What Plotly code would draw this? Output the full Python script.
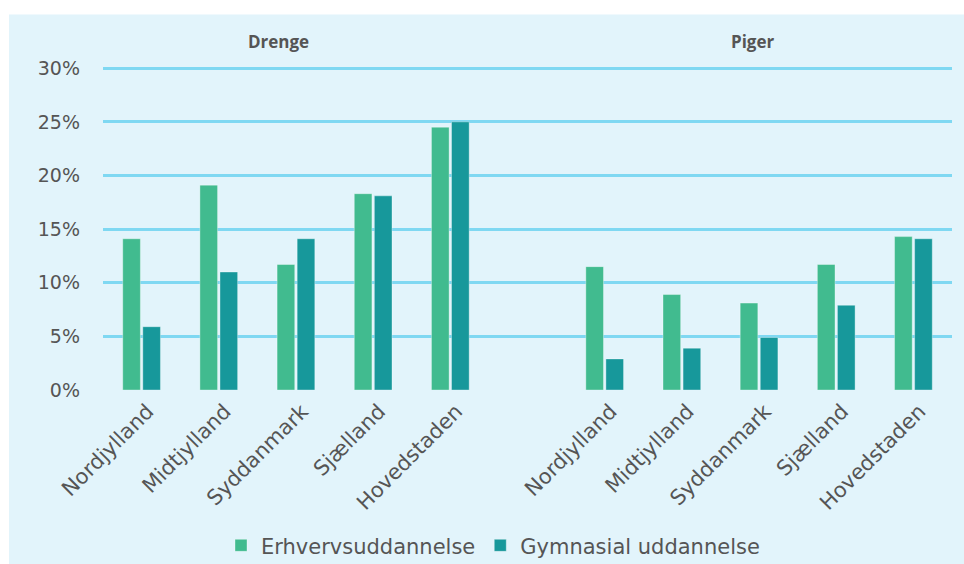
import plotly.graph_objects as go
from plotly.subplots import make_subplots

regions = ["Nordjylland", "Midtjylland", "Syddanmark", "Sjælland", "Hovedstaden"]
groups = ["Drenge", "Piger"]
series_names = ["Erhvervsuddannelse", "Gymnasial uddannelse"]
drenge_erhverv = [14.1, 19.1, 11.7, 18.3, 24.5]
drenge_gym = [5.9, 11.0, 14.1, 18.1, 25.0]
piger_erhverv = [11.5, 8.9, 8.1, 11.7, 14.3]
piger_gym = [2.9, 3.9, 4.9, 7.9, 14.1]
y_ticks = [0, 5, 10, 15, 20, 25, 30]

colors = ["#41bb8f", "#17989b"]
text_color = "#555555"
grid_color = "#7fd8f2"
panel_color = "#e2f4fb"
font_family = "DejaVu Sans"
title_family = "Open Sans"

# target positions are given in reference-image pixels; the capture appears
# vertically compressed, so lay out on a slightly taller canvas
W, H_ref = 964, 564
H = 578
SY = H / H_ref

plot_left, plot_right = 103, 952
plot_zero = 388 * SY
y_top_val = 30.3
y30 = 66 * SY
ph = round((plot_zero - y30) * y_top_val / 30)
L, R = plot_left, W - plot_right
B = round(H - plot_zero)
T = H - B - ph
pw = W - L - R

def px_x(x):
    return (x - L) / pw

def px_y(y):
    return (H - B - y * SY) / ph

fig = make_subplots(rows=1, cols=2, shared_yaxes=True, horizontal_spacing=0)

data = {
    1: [drenge_erhverv, drenge_gym],
    2: [piger_erhverv, piger_gym],
}
for col, vals in data.items():
    for i, (name, v) in enumerate(zip(series_names, vals)):
        fig.add_trace(
            go.Bar(
                x=regions, y=v, name=name,
                marker=dict(color=colors[i], line=dict(color="rgba(255,255,255,0.35)", width=1)),
                showlegend=(col == 1),
                legendgroup=name,
            ),
            row=1, col=col,
        )

axis_common = dict(
    type="category",
    tickangle=-45,
    tickfont=dict(family=font_family, size=21, color=text_color),
    ticklabelshift=6,
    ticklabelstandoff=4,
    showgrid=False,
    zeroline=False,
    showline=False,
    ticks="",
)
fig.update_xaxes(axis_common)
fig.update_xaxes(domain=[0, 0.5], range=[-0.5, 5.0], row=1, col=1)
fig.update_xaxes(domain=[0.5, 1], range=[-1.0, 4.5], row=1, col=2)

fig.update_yaxes(
    range=[0, y_top_val],
    tickvals=y_ticks,
    ticktext=[f"{t}%" for t in y_ticks],
    showgrid=True, gridcolor=grid_color, gridwidth=2.5,
    zeroline=False,
    showline=False,
    ticks="",
    tickfont=dict(family=font_family, size=19, color=text_color),
)
fig.update_yaxes(ticklabelstandoff=22, row=1, col=1)

fig.add_shape(
    type="rect", xref="paper", yref="paper",
    x0=px_x(9), x1=px_x(970), y0=px_y(580), y1=px_y(13),
    fillcolor=panel_color, line=dict(width=0), layer="below",
)

for g, xp in zip(groups, [278, 753]):
    fig.add_annotation(
        text=f"<b>{g}</b>", xref="paper", yref="paper",
        x=px_x(xp), y=px_y(40), showarrow=False,
        xanchor="center", yanchor="middle",
        font=dict(family=title_family, size=17, color=text_color),
    )

fig.update_layout(
    width=W, height=H,
    margin=dict(l=L, r=R, t=T, b=B),
    paper_bgcolor="white",
    plot_bgcolor="rgba(0,0,0,0)",
    barmode="group",
    bargap=0.48,
    bargroupgap=0.12,
    legend=dict(
        orientation="h",
        x=px_x(493), xanchor="center",
        y=px_y(544), yanchor="middle",
        font=dict(family=font_family, size=21, color=text_color),
        bgcolor="rgba(0,0,0,0)",
        itemwidth=30,
        tracegroupgap=0,
    ),
    font=dict(family=font_family, color=text_color),
)

post = (
    "document.documentElement.style.margin='0';"
    "document.body.style.margin='0';"
)

fig.write_html(
    "out.html",
    config={"displayModeBar": False},
    post_script=post,
)
